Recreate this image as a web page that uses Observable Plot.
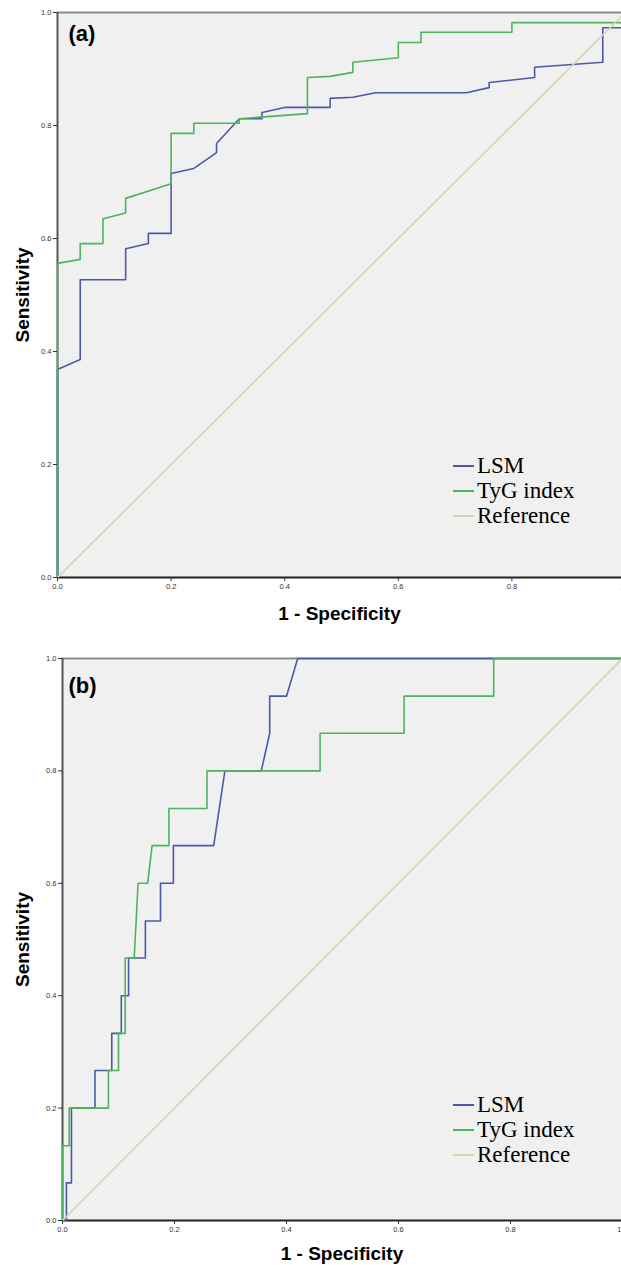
<!DOCTYPE html>
<html>
<head>
<meta charset="utf-8">
<script src="https://cdn.jsdelivr.net/npm/d3@7"></script>
<script src="https://cdn.jsdelivr.net/npm/@observablehq/plot@0.6"></script>
<style>
  html, body { margin: 0; padding: 0; background: #fff; overflow: hidden; width: 621px; }
  .panel { position: relative; width: 621px; }
  .panel svg { display: block; }
  .legend { position: absolute; font-family: "Liberation Serif", "Times New Roman", serif; font-size: 23px; color: #000; }
  .legend .row { display: flex; align-items: center; height: 25px; white-space: nowrap; }
  .legend .sw { display: inline-block; width: 21px; height: 2px; margin-right: 3px; }
</style>
</head>
<body>
<div id="chart"></div>
<script>
// ---------- data ----------
const seriesNames = ["LSM", "TyG index", "Reference"];
const axisTicks = [0, 0.2, 0.4, 0.6, 0.8, 1.0];

// Panel (a)
const lsmA_fpr = [0, 0, 0.04, 0.04, 0.12, 0.12, 0.16, 0.16, 0.20, 0.20, 0.24, 0.28, 0.28, 0.32, 0.36, 0.36, 0.40, 0.48, 0.48, 0.52, 0.56, 0.72, 0.76, 0.76, 0.84, 0.84, 0.96, 0.96, 1.0, 1.0];
const lsmA_tpr = [0, 0.368, 0.386, 0.527, 0.527, 0.582, 0.591, 0.609, 0.609, 0.715, 0.724, 0.752, 0.768, 0.812, 0.812, 0.823, 0.832, 0.832, 0.848, 0.850, 0.858, 0.858, 0.867, 0.876, 0.885, 0.903, 0.912, 0.973, 0.973, 1.0];
const tygA_fpr = [0, 0, 0.04, 0.04, 0.08, 0.08, 0.12, 0.12, 0.20, 0.20, 0.24, 0.24, 0.32, 0.32, 0.44, 0.44, 0.48, 0.52, 0.52, 0.60, 0.60, 0.64, 0.64, 0.80, 0.80, 1.0, 1.0];
const tygA_tpr = [0, 0.556, 0.563, 0.591, 0.591, 0.635, 0.645, 0.671, 0.697, 0.786, 0.786, 0.804, 0.804, 0.812, 0.821, 0.885, 0.887, 0.894, 0.912, 0.920, 0.947, 0.947, 0.965, 0.965, 0.982, 0.982, 1.0];

// Panel (b)
const lsmB_fpr = [0, 0.007, 0.007, 0.016, 0.016, 0.058, 0.058, 0.088, 0.088, 0.105, 0.105, 0.118, 0.118, 0.148, 0.148, 0.175, 0.175, 0.198, 0.198, 0.27, 0.29, 0.355, 0.37, 0.37, 0.40, 0.42, 1.0];
const lsmB_tpr = [0, 0, 0.067, 0.067, 0.2, 0.2, 0.267, 0.267, 0.333, 0.333, 0.4, 0.4, 0.467, 0.467, 0.533, 0.533, 0.6, 0.6, 0.667, 0.667, 0.8, 0.8, 0.867, 0.933, 0.933, 1.0, 1.0];
const tygB_fpr = [0, 0, 0.012, 0.012, 0.082, 0.082, 0.1, 0.1, 0.112, 0.112, 0.128, 0.135, 0.152, 0.16, 0.19, 0.19, 0.258, 0.258, 0.46, 0.46, 0.61, 0.61, 0.77, 0.77, 1.0];
const tygB_tpr = [0, 0.133, 0.133, 0.2, 0.2, 0.267, 0.267, 0.333, 0.333, 0.467, 0.467, 0.6, 0.6, 0.667, 0.667, 0.733, 0.733, 0.8, 0.8, 0.867, 0.867, 0.933, 0.933, 1.0, 1.0];

// Reference diagonal
const ref_fpr = [0, 1];
const ref_tpr = [0, 1];

// ---------- styles ----------
const seriesColors = ["#4b5aa8", "#4fb35c", "#d4d7a8"];
const bg = "#f0f0f0";

function rowsFor(series, xs, ys) {
  return xs.map((x, i) => ({series, fpr: x, tpr: ys[i]}));
}

function panel(cfg) {
  const rows = [
    ...rowsFor("LSM", cfg.lsmX, cfg.lsmY),
    ...rowsFor("TyG index", cfg.tygX, cfg.tygY),
    ...rowsFor("Reference", ref_fpr, ref_tpr)
  ];
  const fmt = d => d.toFixed(1);
  const plot = Plot.plot({
    width: 621,
    height: cfg.height,
    marginTop: cfg.marginTop,
    marginBottom: cfg.marginBottom,
    marginLeft: cfg.marginLeft,
    marginRight: 0,
    style: {fontFamily: "'Liberation Sans', Arial, sans-serif", background: "white", overflow: "hidden"},
    x: {domain: [0, 1], range: cfg.xRange},
    y: {domain: [0, 1], range: cfg.yRange},
    color: {domain: seriesNames, range: seriesColors},
    marks: [
      Plot.frame({fill: bg, stroke: null}),
      Plot.ruleY([1], {stroke: "#8c8c8c", strokeWidth: 2}),
      Plot.ruleX([0], {stroke: "#555", strokeWidth: 2}),
      Plot.ruleY([0], {stroke: "#222", strokeWidth: 2}),
      Plot.line(rows, {x: "fpr", y: "tpr", z: "series", stroke: "series", strokeWidth: 1.6}),
      Plot.axisX(axisTicks, {tickFormat: fmt, tickSize: 4, tickPadding: 2, fontSize: 7.5, label: null, stroke: "#333", fill: "#333"}),
      Plot.axisY(axisTicks, {tickFormat: fmt, tickSize: 4, tickPadding: 2, fontSize: 7.5, label: null, stroke: "#333", fill: "#333"}),
      Plot.text(["Sensitivity"], {frameAnchor: "left", dx: cfg.yTitleDx, rotate: -90, textAnchor: "middle", lineAnchor: "middle", fontSize: 19, fontWeight: "bold", fill: "#000"}),
      Plot.text(["1 - Specificity"], {frameAnchor: "bottom", dy: cfg.xTitleDy, textAnchor: "middle", lineAnchor: "middle", fontSize: 19, fontWeight: "bold", fill: "#000"}),
      Plot.text([cfg.label], {frameAnchor: "top-left", dx: cfg.labelDx, dy: cfg.labelDy, textAnchor: "start", fontSize: 22, fontWeight: "bold", fill: "#000"})
    ]
  });
  const wrap = document.createElement("div");
  wrap.className = "panel";
  wrap.appendChild(plot);
  const leg = document.createElement("div");
  leg.className = "legend";
  leg.style.left = cfg.legendLeft + "px";
  leg.style.top = cfg.legendTop + "px";
  seriesNames.forEach((name, i) => {
    const row = document.createElement("div");
    row.className = "row";
    const sw = document.createElement("span");
    sw.className = "sw";
    sw.style.background = seriesColors[i];
    row.appendChild(sw);
    row.appendChild(document.createTextNode(name));
    leg.appendChild(row);
  });
  wrap.appendChild(leg);
  return wrap;
}

const root = document.getElementById("chart");
root.appendChild(panel({
  lsmX: lsmA_fpr, lsmY: lsmA_tpr, tygX: tygA_fpr, tygY: tygA_tpr,
  height: 630, marginTop: 12, marginBottom: 53, marginLeft: 57,
  xRange: [57, 625], yRange: [577, 12],
  yTitleDx: -35, xTitleDy: 36, label: "(a)", labelDx: 11, labelDy: 13,
  legendLeft: 453, legendTop: 453
}));
root.appendChild(panel({
  lsmX: lsmB_fpr, lsmY: lsmB_tpr, tygX: tygB_fpr, tygY: tygB_tpr,
  height: 635, marginTop: 28, marginBottom: 45, marginLeft: 62,
  xRange: [62, 622], yRange: [590, 28],
  yTitleDx: -40, xTitleDy: 33, label: "(b)", labelDx: 6, labelDy: 19,
  legendLeft: 453, legendTop: 462
}));
</script>
</body>
</html>
